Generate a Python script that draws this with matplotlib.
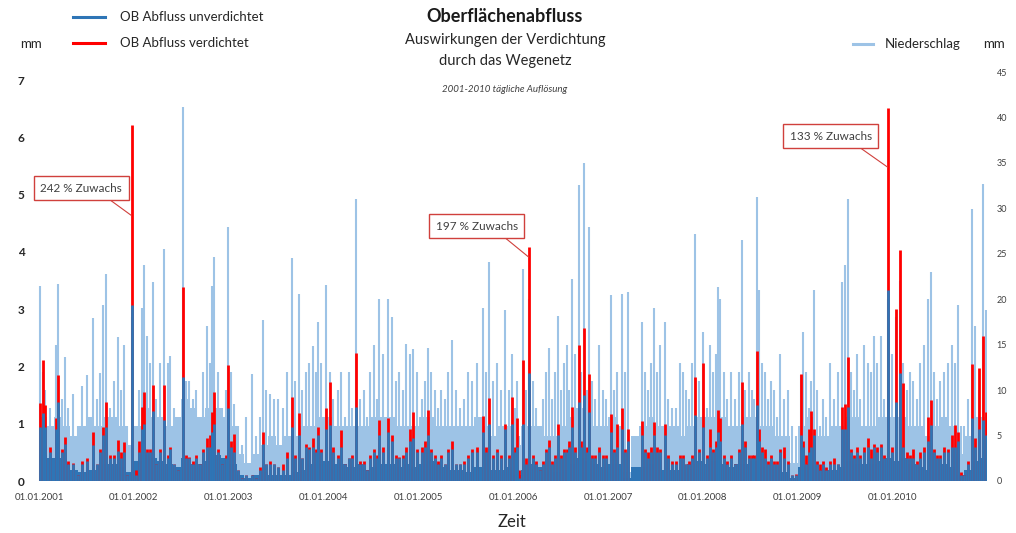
import numpy as np
import pandas as pd
import matplotlib
matplotlib.use("Agg")
import matplotlib.pyplot as plt
from matplotlib.lines import Line2D

plt.rcParams['font.family'] = ['Lato', 'DejaVu Sans']

# events: day offset since 01.01.2001, precipitation (mm, right axis),
# surface runoff unverdichtet / verdichtet (mm, left axis)
ev_day = [
    4, 15, 23, 42, 65, 73, 89, 100, 112, 131, 150, 166, 185, 208, 223, 235, 246, 258, 273, 289, 304, 316, 327, 339, 358,
    373, 385, 397, 404, 416, 427, 439, 450, 466, 481, 497, 504, 520, 535, 554, 566, 578, 593, 604, 620, 631, 647, 658, 666, 674, 689, 705, 720, 728,
    739, 751, 766, 782, 797, 820, 835, 851, 862, 874, 889, 905, 920, 939, 955, 974, 986, 1001, 1013, 1028, 1040, 1055, 1066, 1074, 1086,
    1105, 1120, 1132, 1151, 1163, 1178, 1194, 1205, 1220, 1236, 1251, 1263, 1274, 1290, 1301, 1309, 1324, 1344, 1359, 1374, 1386, 1401, 1413, 1428, 1440, 1455,
    1475, 1486, 1498, 1509, 1525, 1536, 1548, 1563, 1575, 1590, 1605, 1621, 1636, 1652, 1667, 1686, 1709, 1721, 1733, 1748, 1763, 1779, 1794, 1810, 1821,
    1833, 1840, 1848, 1863, 1875, 1887, 1902, 1913, 1929, 1940, 1952, 1964, 1975, 1987, 1998, 2010, 2021, 2033, 2041, 2052, 2064, 2079, 2087, 2098, 2110, 2118, 2129, 2141, 2156, 2171, 2183,
    2202, 2214, 2225, 2245, 2256, 2268, 2322, 2333, 2345, 2356, 2368, 2379, 2391, 2410, 2422, 2437, 2452, 2468, 2479, 2491, 2503, 2514, 2526, 2541, 2556,
    2572, 2583, 2595, 2606, 2614, 2622, 2637, 2649, 2664, 2680, 2695, 2707, 2718, 2734, 2745, 2753, 2764, 2772, 2784, 2795, 2807, 2818, 2830, 2841, 2853, 2868, 2884, 2899, 2914,
    2934, 2941, 2953, 2965, 2972, 2984, 2995, 3007, 3018, 3030, 3045, 3061, 3076, 3092, 3103, 3115, 3126, 3138, 3149, 3161, 3176, 3192, 3203, 3215, 3226, 3242, 3253, 3269,
    3284, 3299, 3315, 3326, 3342, 3353, 3365, 3380, 3392, 3407, 3423, 3434, 3446, 3457, 3469, 3484, 3500, 3515, 3527, 3538, 3550, 3561, 3577, 3592, 3604, 3619, 3634, 3646,
]
ev_rain = [
    21.5, 12, 10, 8, 15, 21.7, 9, 13.6, 8, 9.6, 6, 10.5, 11.7, 17.9, 9, 11.9, 19.4, 22.8, 8, 11, 15.8, 10, 15, 6, 18,
    5, 10, 19, 23.8, 16, 13, 21.9, 9, 13, 25.5, 13, 13.7, 8, 6, 41.2, 11, 11, 9, 10, 7, 12, 17, 13, 21.5, 24.6, 12, 8, 10, 28,
    12, 8.5, 6, 4, 7, 11.8, 5, 7, 17.7, 10, 9.6, 9, 9, 8, 12, 24.5, 11, 20.6, 10, 12, 13, 14.8, 12, 17.5, 13,
    21.6, 12, 9, 10, 12, 7, 12, 8, 31, 9, 10, 7, 12, 15, 9, 20, 14, 20, 18, 11, 12, 10, 15.1, 14, 14.5, 12,
    9, 11, 14.6, 12, 10, 8, 10, 9, 12, 15.5, 10, 8, 9, 12, 11, 13, 19, 12, 24.1, 11, 13, 10, 18.8, 10, 14,
    8, 11, 5, 23.3, 10, 20, 11, 8, 6, 9, 12, 14.6, 9, 12, 18.1, 10, 13, 15, 10, 22.2, 14, 32.6, 12, 35, 10, 28, 11, 9, 15, 10, 9,
    20.5, 10, 12, 20.6, 12, 20.8, 17.5, 12, 10, 13, 19, 12, 15, 17.5, 9, 8, 8, 13, 12, 10, 9, 13, 27.2, 11, 16.4,
    8, 15, 12, 14, 21.3, 20, 12, 9, 12, 9, 12, 26.5, 10, 12, 10, 9, 31.2, 21, 13, 12, 9, 11, 10, 7, 14, 9, 10, 6, 5,
    11.7, 16.4, 12, 8, 11, 21, 10, 6, 9, 7, 13, 9, 12, 21.9, 23.8, 31, 12, 10, 14, 9, 15, 13, 12, 16, 13, 16, 9, 20,
    14, 18, 22, 13, 10, 12, 11, 9, 13, 15, 20, 23, 12, 9, 11, 12, 13, 15, 13, 19.4, 6, 6, 9, 29.9, 17, 10, 32.7, 18.8,
]
ev_ob_u = [
    0.94, 1.19, 0.94, 0.5, 0.9, 1.38, 0.5, 0.65, 0.3, 0.3, 0.1, 0.3, 0.35, 0.62, 0.3, 0.5, 0.8, 0.94, 0.4, 0.4, 0.52, 0.4, 0.5, 0.1, 3.07,
    0.1, 0.5, 0.9, 1.0, 0.5, 0.5, 1.23, 0.3, 0.5, 1.06, 0.4, 0.55, 0.3, 0.2, 1.82, 0.4, 0.4, 0.3, 0.4, 0.3, 0.5, 0.6, 0.6, 0.86, 1.0, 0.5, 0.3, 0.4, 1.27,
    0.6, 0.5, 0.2, 0.05, 0.1, 0.1, 0.05, 0.2, 0.65, 0.3, 0.3, 0.3, 0.25, 0.2, 0.4, 0.94, 0.4, 0.8, 0.4, 0.6, 0.55, 0.6, 0.5, 0.8, 0.5,
    0.9, 0.98, 0.5, 0.4, 0.6, 0.3, 0.4, 0.4, 1.3, 0.3, 0.3, 0.2, 0.4, 0.5, 0.4, 0.8, 0.5, 0.85, 0.7, 0.4, 0.4, 0.4, 0.5, 0.7, 0.75, 0.5,
    0.5, 0.6, 0.8, 0.5, 0.4, 0.3, 0.4, 0.3, 0.5, 0.55, 0.3, 0.3, 0.3, 0.4, 0.5, 0.5, 0.85, 0.5, 1.0, 0.4, 0.5, 0.4, 0.9, 0.4, 1.0,
    0.5, 0.6, 0.05, 1.0, 0.3, 1.88, 0.4, 0.3, 0.2, 0.3, 0.5, 0.6, 0.3, 0.4, 0.8, 0.4, 0.5, 0.5, 0.6, 0.95, 0.5, 1.38, 0.6, 1.5, 0.5, 1.2, 0.4, 0.4, 0.5, 0.4, 0.4,
    0.85, 0.5, 0.6, 0.9, 0.5, 0.7, 0.8, 0.5, 0.4, 0.5, 0.8, 0.5, 0.5, 0.8, 0.4, 0.3, 0.3, 0.4, 0.4, 0.3, 0.3, 0.4, 1.15, 0.5, 0.95,
    0.4, 0.6, 0.5, 0.6, 0.85, 0.7, 0.4, 0.3, 0.4, 0.3, 0.5, 1.0, 0.6, 0.4, 0.4, 0.4, 1.32, 0.7, 0.5, 0.4, 0.3, 0.4, 0.3, 0.3, 0.5, 0.4, 0.3, 0.1, 0.1,
    0.8, 0.6, 0.3, 0.5, 0.6, 0.8, 0.3, 0.2, 0.3, 0.2, 0.3, 0.3, 0.3, 0.9, 0.9, 1.3, 0.5, 0.4, 0.5, 0.4, 0.5, 0.6, 0.4, 0.6, 0.5, 0.6, 0.4, 3.33,
    0.5, 1.38, 1.88, 0.6, 0.4, 0.4, 0.4, 0.3, 0.4, 0.5, 0.7, 0.98, 0.5, 0.4, 0.4, 0.5, 0.5, 0.6, 0.6, 0.7, 0.1, 0.1, 0.3, 1.1, 0.6, 0.9, 1.06, 0.8,
]
ev_ob_v = [
    1.36, 2.11, 1.33, 0.6, 1.1, 1.85, 0.55, 0.77, 0.35, 0.32, 0.1, 0.35, 0.4, 0.85, 0.3, 0.55, 0.95, 1.38, 0.45, 0.45, 0.71, 0.5, 0.68, 0.1, 6.21,
    0.2, 0.7, 1.3, 1.55, 0.55, 0.55, 1.68, 0.3, 0.55, 1.68, 0.45, 0.6, 0.3, 0.2, 3.39, 0.45, 0.42, 0.35, 0.45, 0.3, 0.55, 0.75, 0.8, 1.2, 1.55, 0.55, 0.3, 0.45, 2.02,
    0.7, 0.82, 0.2, 0.05, 0.1, 0.1, 0.05, 0.25, 0.86, 0.3, 0.35, 0.3, 0.25, 0.3, 0.5, 1.47, 0.45, 1.18, 0.4, 0.65, 0.6, 0.75, 0.55, 0.95, 0.55,
    1.27, 1.73, 0.6, 0.45, 0.89, 0.3, 0.4, 0.45, 2.23, 0.35, 0.35, 0.2, 0.45, 0.55, 0.45, 1.06, 0.6, 1.1, 0.8, 0.45, 0.42, 0.45, 0.6, 0.9, 1.2, 0.55,
    0.6, 0.7, 1.24, 0.55, 0.45, 0.35, 0.45, 0.3, 0.55, 0.7, 0.3, 0.3, 0.35, 0.45, 0.55, 0.6, 1.13, 0.6, 1.45, 0.45, 0.55, 0.45, 1.0, 0.45, 1.47,
    0.6, 1.1, 0.2, 2.11, 0.4, 4.08, 0.45, 0.35, 0.2, 0.35, 0.55, 0.72, 0.35, 0.45, 1.0, 0.45, 0.55, 0.55, 0.7, 1.3, 0.6, 2.37, 0.7, 2.67, 0.6, 1.87, 0.45, 0.45, 0.6, 0.45, 0.45,
    1.17, 0.55, 1.0, 1.27, 0.55, 0.9, 1.05, 0.55, 0.5, 0.6, 1.03, 0.6, 0.55, 1.0, 0.45, 0.35, 0.35, 0.45, 0.45, 0.3, 0.35, 0.45, 1.82, 0.55, 2.06,
    0.45, 0.9, 0.55, 0.7, 1.24, 1.1, 0.45, 0.35, 0.45, 0.3, 0.55, 1.73, 0.7, 0.45, 0.45, 0.45, 2.27, 0.9, 0.6, 0.55, 0.35, 0.45, 0.35, 0.35, 0.55, 0.6, 0.35, 0.1, 0.12,
    1.87, 0.7, 0.45, 0.9, 1.22, 0.9, 0.35, 0.3, 0.35, 0.25, 0.35, 0.4, 0.3, 1.3, 1.35, 2.17, 0.55, 0.45, 0.6, 0.45, 0.6, 0.75, 0.55, 0.65, 0.6, 0.65, 0.45, 6.51,
    0.6, 3.0, 4.03, 1.71, 0.5, 0.45, 0.55, 0.35, 0.5, 0.6, 1.12, 1.41, 0.55, 0.45, 0.45, 0.6, 0.55, 0.8, 0.97, 0.85, 0.15, 0.1, 0.35, 2.05, 0.75, 1.97, 2.53, 1.2,
]

# monthly background levels (Jan 2001 .. Dec 2010)
rain_base = [
    7, 6, 7, 6, 5, 6, 7, 6, 7, 7, 6, 4,
    6, 8, 7, 7, 6, 7, 9, 8, 7, 8, 8, 7,
    6, 3, 2, 3, 4, 5, 4, 5, 5, 6, 6, 7,
    7, 6, 6, 6, 6, 6, 7, 7, 7, 6, 6, 6,
    7, 7, 6, 6, 6, 6, 6, 7, 6, 5, 6, 6,
    4, 6, 6, 6, 5, 5, 6, 7, 8, 7, 6, 6,
    7, 6, 1, 5, 6, 7, 6, 6, 6, 5, 6, 7,
    7, 7, 7, 6, 6, 7, 7, 6, 6, 5, 5, 2,
    6, 7, 5, 5, 6, 6, 7, 7, 6, 6, 7, 7,
    7, 7, 6, 6, 5, 6, 7, 6, 3, 5, 7, 7,
]
ob_base = [
    0.45, 0.4, 0.4, 0.3, 0.2, 0.15, 0.2, 0.2, 0.3, 0.3, 0.25, 0.15,
    0.35, 0.45, 0.4, 0.35, 0.3, 0.25, 0.4, 0.3, 0.3, 0.35, 0.45, 0.4,
    0.3, 0.1, 0.05, 0.1, 0.15, 0.1, 0.1, 0.1, 0.15, 0.2, 0.3, 0.3,
    0.35, 0.3, 0.3, 0.25, 0.3, 0.2, 0.25, 0.3, 0.3, 0.25, 0.3, 0.25,
    0.3, 0.35, 0.3, 0.25, 0.2, 0.2, 0.15, 0.25, 0.2, 0.2, 0.2, 0.25,
    0.1, 0.2, 0.3, 0.25, 0.2, 0.15, 0.2, 0.3, 0.4, 0.35, 0.3, 0.25,
    0.3, 0.3, 0.05, 0.25, 0.25, 0.3, 0.2, 0.2, 0.2, 0.2, 0.3, 0.35,
    0.3, 0.35, 0.3, 0.25, 0.3, 0.3, 0.35, 0.25, 0.2, 0.2, 0.15, 0.05,
    0.25, 0.3, 0.2, 0.2, 0.2, 0.25, 0.35, 0.3, 0.3, 0.3, 0.35, 0.4,
    0.35, 0.4, 0.3, 0.25, 0.2, 0.2, 0.3, 0.25, 0.1, 0.2, 0.35, 0.4,
]

tick_years = list(range(2001, 2011))
# label text, point on the red bar (day, mm), box centre (day, mm)
annotations = [
    ("242 % Zuwachs", 354, 4.64, 162, 5.11),
    ("197 % Zuwachs", 1885, 3.91, 1686, 4.45),
    ("133 % Zuwachs", 3267, 5.48, 3049, 6.02),
]

C_RAIN = '#9DC3E6'
C_U = '#2E75B6'
C_V = '#FF0000'
C_BOX = '#D0403C'

start = pd.Timestamp('2001-01-01')
month_edges = (pd.date_range('2001-01-01', periods=121, freq='MS') - start).days.values
year_ticks = [(pd.Timestamp(f'{y}-01-01') - start).days for y in tick_years]

W, H = 1016, 533
fig = plt.figure(figsize=(W / 100, H / 100), dpi=100)
ax = fig.add_axes([37 / W, 52 / H, 950 / W, 409 / H])
ax2 = ax.twinx()
ax.set_zorder(ax2.get_zorder() + 1)
ax.patch.set_visible(False)

# precipitation (right axis)
ax2.stairs(rain_base, month_edges, fill=True, color=C_RAIN, lw=0)
ax2.vlines(ev_day, 0, ev_rain, color=C_RAIN, lw=1.5)
ax2.set_ylim(0, 45)
ax2.set_yticks(range(0, 46, 5))

# runoff (left axis)
ax.vlines(ev_day, 0, ev_ob_v, color=C_V, lw=2.0)
ax.vlines(ev_day, 0, ev_ob_u, color=C_U, lw=2.0)
ax.stairs(ob_base, month_edges, fill=True, color=C_U, lw=0)
ax.set_ylim(0, 7.14)
ax.set_yticks(range(0, 8))
ax.set_xlim(-8, 3650)
ax.set_xticks(year_ticks)
ax.set_xticklabels([f'01.01.{y}' for y in tick_years])

for a in (ax, ax2):
    for s in a.spines.values():
        s.set_visible(False)
ax.tick_params(axis='y', length=0, pad=9, labelsize=8.5, labelcolor='#262626')
for lbl in ax.get_yticklabels():
    lbl.set_fontweight('bold')
ax.tick_params(axis='x', length=0, pad=9, labelsize=7, labelcolor='#404040')
ax2.tick_params(axis='y', length=0, pad=7, labelsize=6.5, labelcolor='#404040')

for txt, xd, yd, tx, ty in annotations:
    ax.annotate(txt, xy=(xd, yd), xytext=(tx, ty),
                ha='center', va='center', fontsize=8.5, color='#404040',
                bbox=dict(boxstyle='square,pad=0.55', fc='white', ec=C_BOX, lw=1.0),
                arrowprops=dict(arrowstyle='-', color=C_BOX, lw=0.8, relpos=(0.75, 0),
                                shrinkA=0, shrinkB=0))

ax.set_xlabel('Zeit', fontsize=12, labelpad=8, color='#262626')


def fx(x):
    return x / W


def fy(y):
    return 1 - y / H


# titles
fig.text(fx(505), fy(16), 'Oberflächenabfluss', ha='center', va='center', fontsize=13, fontweight='bold', color='#1a1a1a')
fig.text(fx(505), fy(40), 'Auswirkungen der Verdichtung', ha='center', va='center', fontsize=10.5, color='#262626')
fig.text(fx(505), fy(61), 'durch das Wegenetz', ha='center', va='center', fontsize=10.5, color='#262626')
fig.text(fx(505), fy(90), '2001-2010 tägliche Auflösung', ha='center', va='center', fontsize=7, style='italic', color='#404040')

# legends
fig.add_artist(Line2D([fx(73), fx(105)], [fy(17), fy(17)], color=C_U, lw=2.2))
fig.add_artist(Line2D([fx(73), fx(105)], [fy(43), fy(43)], color=C_V, lw=2.2))
fig.text(fx(120), fy(17), 'OB Abfluss unverdichtet', ha='left', va='center', fontsize=9.5, color='#262626')
fig.text(fx(120), fy(43), 'OB Abfluss verdichtet', ha='left', va='center', fontsize=9.5, color='#262626')
fig.text(fx(20), fy(44), 'mm', ha='left', va='center', fontsize=9.5, color='#262626')
fig.add_artist(Line2D([fx(853), fx(873)], [fy(44), fy(44)], color=C_RAIN, lw=2.2))
fig.text(fx(885), fy(44), 'Niederschlag', ha='left', va='center', fontsize=9.5, color='#262626')
fig.text(fx(983), fy(44), 'mm', ha='left', va='center', fontsize=9.5, color='#262626')

fig.savefig('out.png', dpi=100)
